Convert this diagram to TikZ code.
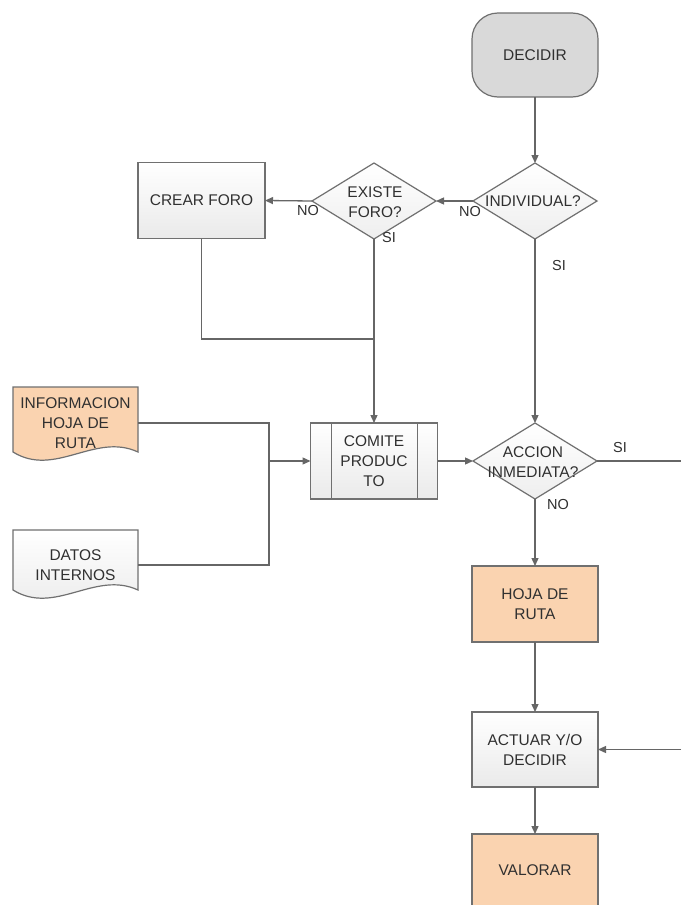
\documentclass[tikz,border=0pt]{standalone}
\usepackage{fontspec}
\setmainfont{Liberation Sans}
\usetikzlibrary{shapes.geometric,arrows.meta}
\definecolor{linegray}{HTML}{666666}
\definecolor{bordergray}{HTML}{707070}
\definecolor{txtgray}{HTML}{303030}
\definecolor{peach}{HTML}{FAD3B0}
\definecolor{termgray}{HTML}{D9D9D9}
\definecolor{boxlo}{HTML}{EAEAEA}
\tikzset{
  conn/.style={draw=linegray, line width=1.3pt},
  arr/.style={conn, -{Triangle[length=8pt,width=7pt]}},
  basebox/.style={draw=bordergray, line width=1.2pt, outer sep=0pt, inner sep=0pt,
    align=center, text=txtgray, font=\fontsize{15.5}{20}\selectfont},
  graybox/.style={basebox, rectangle, top color=white, bottom color=boxlo,
    minimum width=127pt, minimum height=76pt},
  peachbox/.style={basebox, rectangle, fill=peach, minimum width=126pt, minimum height=76pt},
  terminal/.style={basebox, rectangle, rounded corners=26pt, fill=termgray,
    minimum width=126pt, minimum height=84pt},
  decision/.style={basebox, diamond, top color=white, bottom color=boxlo!80,
    minimum width=124pt, minimum height=76pt},
  dtext/.style={align=center, text=txtgray, font=\fontsize{15.5}{20}\selectfont, inner sep=0pt},
  lbl/.style={text=txtgray, font=\fontsize{14.5}{16}\selectfont, inner sep=0pt},
  docshape/.style={draw=bordergray, line width=1.2pt},
  doctext/.style={dtext, minimum width=125pt}
}
\begin{document}
\begin{tikzpicture}[x=1pt,y=-1pt]
\useasboundingbox[fill=white] (0,0) rectangle (681,905);

% terminal
\node[terminal] (decidir) at (535,55) {DECIDIR};

% decisions
\node[decision] (indiv) at (535,201) {};
\node[dtext] (indivt) at (533,201) {INDIVIDUAL?};
\node[decision] (existe) at (374,201) {};
\node[dtext] (existet) at (375,202) {EXISTE\\FORO?};
\node[decision] (accion) at (535,461) {};
\node[dtext] (acciont) at (533,462) {ACCION\\INMEDIATA?};

% process boxes
\node[graybox] (crear) at (201.5,200.5) {CREAR FORO};
\node[graybox] (comite) at (374,461) {COMITE\\PRODUC\\TO};
\draw[draw=bordergray, line width=1.2pt] ([xshift=21pt]comite.north west) -- ([xshift=21pt]comite.south west);
\draw[draw=bordergray, line width=1.2pt] ([xshift=-20pt]comite.north east) -- ([xshift=-20pt]comite.south east);
\node[peachbox] (hoja) at (535,604) {HOJA DE\\RUTA};
\node[graybox, minimum width=126pt, minimum height=75pt] (actuar) at (535,749.5) {ACTUAR Y/O\\DECIDIR};
\node[peachbox, minimum height=100pt] (valorar) at (535,884) {};
\node[dtext] (valorart) at (535,870) {VALORAR};

% documents
\path[docshape, fill=peach] (13,387) -- (138,387) -- (138,452)
  .. controls (95,432) and (55,478) .. (13,452) -- cycle;
\node[doctext] (info) at (75.5,423) {INFORMACION\\HOJA DE\\RUTA};
\path[docshape, top color=white, bottom color=boxlo] (13,530) -- (138,530) -- (138,590)
  .. controls (95,570) and (55,616) .. (13,590) -- cycle;
\node[doctext] (datos) at (75.5,565) {DATOS\\INTERNOS};

% coordinates
\coordinate (join) at (374,339);
\coordinate (mergeA) at (269,423);
\coordinate (mergeB) at (269,565);
\coordinate (mergeC) at (269,461);
\coordinate (siend) at (681,461);
\coordinate (actin) at (681,749.5);

% connectors
\draw[arr] (decidir.south) -- (indiv.north);
\draw[arr] (indiv.west) -- (existe.east);
\draw[arr] (existe.west) -- (crear.east);
\draw[arr] (existe.south) -- (comite.north);
\draw[conn] (crear.south) |- (join);
\draw[arr] (indiv.south) -- (accion.north);
\draw[arr] (comite.east) -- (accion.west);
\draw[conn] (accion.east) -- (siend);
\draw[arr] (accion.south) -- (hoja.north);
\draw[arr] (hoja.south) -- (actuar.north);
\draw[arr] (actin) -- (actuar.east);
\draw[arr] (actuar.south) -- (valorar.north);
\draw[conn] (info.east) -- (mergeA) -- (mergeB) -- (datos.east);
\draw[arr] (mergeC) -- (comite.west);

% labels
\node[lbl] (noind) at (470,212) {NO};
\node[lbl] (noex) at (308,211) {NO};
\node[lbl] (siex) at (389,238) {SI};
\node[lbl] (siind) at (559,266) {SI};
\node[lbl] (siacc) at (620,448) {SI};
\node[lbl] (noacc) at (558,505) {NO};
\end{tikzpicture}
\end{document}
